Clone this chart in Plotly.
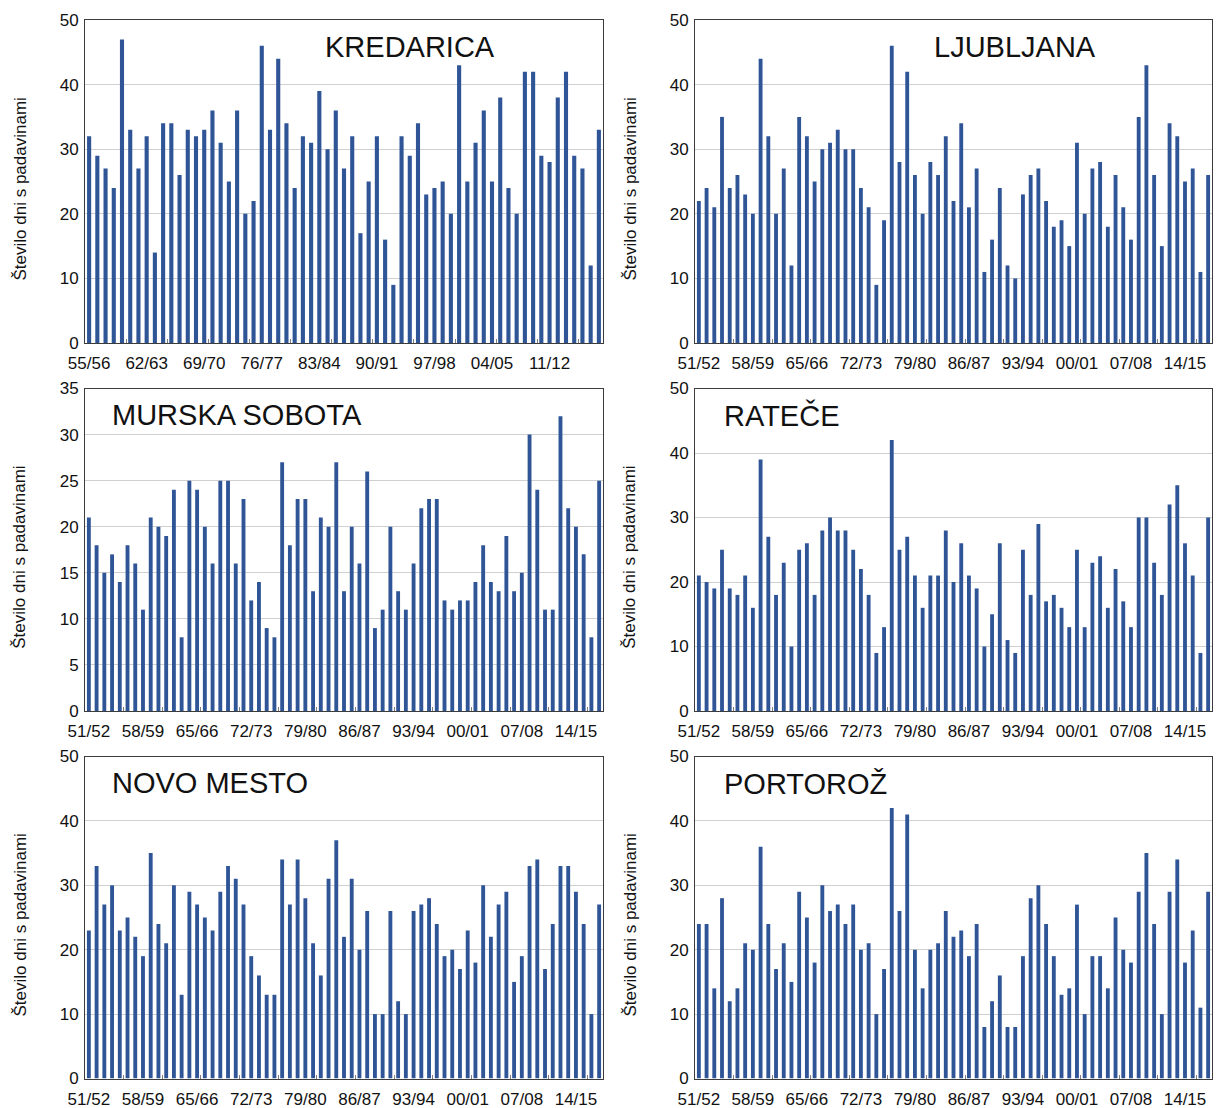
import plotly.graph_objects as go
from plotly.subplots import make_subplots

# Winter seasons (e.g. 1951/52 -> "51/52")
seasons_51 = [f"{y % 100:02d}/{(y + 1) % 100:02d}" for y in range(1951, 2018)]
seasons_55 = [f"{y % 100:02d}/{(y + 1) % 100:02d}" for y in range(1955, 2018)]

# Number of days with precipitation per winter season
kredarica = [32, 29, 27, 24, 47, 33, 27, 32, 14, 34, 34, 26, 33, 32, 33, 36, 31, 25, 36, 20,
             22, 46, 33, 44, 34, 24, 32, 31, 39, 30, 36, 27, 32, 17, 25, 32, 16, 9, 32, 29,
             34, 23, 24, 25, 20, 43, 25, 31, 36, 25, 38, 24, 20, 42, 42, 29, 28, 38, 42, 29,
             27, 12, 33]
ljubljana = [22, 24, 21, 35, 24, 26, 23, 20, 44, 32, 20, 27, 12, 35, 32, 25, 30, 31, 33, 30,
             30, 24, 21, 9, 19, 46, 28, 42, 26, 20, 28, 26, 32, 22, 34, 21, 27, 11, 16, 24,
             12, 10, 23, 26, 27, 22, 18, 19, 15, 31, 20, 27, 28, 18, 26, 21, 16, 35, 43, 26,
             15, 34, 32, 25, 27, 11, 26]
murska_sobota = [21, 18, 15, 17, 14, 18, 16, 11, 21, 20, 19, 24, 8, 25, 24, 20, 16, 25, 25, 16,
                 23, 12, 14, 9, 8, 27, 18, 23, 23, 13, 21, 20, 27, 13, 20, 16, 26, 9, 11, 20,
                 13, 11, 16, 22, 23, 23, 12, 11, 12, 12, 14, 18, 14, 13, 19, 13, 15, 30, 24, 11,
                 11, 32, 22, 20, 17, 8, 25]
ratece = [21, 20, 19, 25, 19, 18, 21, 16, 39, 27, 18, 23, 10, 25, 26, 18, 28, 30, 28, 28,
          25, 22, 18, 9, 13, 42, 25, 27, 21, 16, 21, 21, 28, 20, 26, 21, 19, 10, 15, 26,
          11, 9, 25, 18, 29, 17, 18, 16, 13, 25, 13, 23, 24, 16, 22, 17, 13, 30, 30, 23,
          18, 32, 35, 26, 21, 9, 30]
novo_mesto = [23, 33, 27, 30, 23, 25, 22, 19, 35, 24, 21, 30, 13, 29, 27, 25, 23, 29, 33, 31,
              27, 19, 16, 13, 13, 34, 27, 34, 28, 21, 16, 31, 37, 22, 31, 20, 26, 10, 10, 26,
              12, 10, 26, 27, 28, 24, 19, 20, 17, 23, 18, 30, 22, 27, 29, 15, 19, 33, 34, 17,
              24, 33, 33, 29, 24, 10, 27]
portoroz = [24, 24, 14, 28, 12, 14, 21, 20, 36, 24, 17, 21, 15, 29, 25, 18, 30, 26, 27, 24,
            27, 20, 21, 10, 17, 42, 26, 41, 20, 14, 20, 21, 26, 22, 23, 19, 24, 8, 12, 16,
            8, 8, 19, 28, 30, 24, 19, 13, 14, 27, 10, 19, 19, 14, 25, 20, 18, 29, 35, 24,
            10, 29, 34, 18, 23, 11, 29]

stations = [
    ("KREDARICA", seasons_55, kredarica, 50, 10),
    ("LJUBLJANA", seasons_51, ljubljana, 50, 10),
    ("MURSKA SOBOTA", seasons_51, murska_sobota, 35, 5),
    ("RATEČE", seasons_51, ratece, 50, 10),
    ("NOVO MESTO", seasons_51, novo_mesto, 50, 10),
    ("PORTOROŽ", seasons_51, portoroz, 50, 10),
]

W, H = 1216, 1108
FONT = "Liberation Sans, Arial, Helvetica, sans-serif"
BAR = "#2f5597"

# Plot-area pixel boxes (left, right, top, bottom)
col_x = [(85, 603), (695, 1212)]
row_y = [(20, 343), (388.5, 711), (756.5, 1078.5)]

fig = make_subplots(rows=3, cols=2)

# Station title placement in pixels: (x, y, anchor)
title_pos = [
    (410, 47, "center"), (1015, 47, "center"),
    (110, 415, "left"), (722, 415, "left"),
    (110, 783, "left"), (722, 784, "left"),
]

annotations = []
for i, (name, labels, vals, ymax, ystep) in enumerate(stations):
    r, c = divmod(i, 2)
    n = len(vals)
    xs = list(range(n))
    fig.add_trace(
        go.Bar(x=xs, y=vals, marker=dict(color=BAR, line=dict(width=0)),
               width=0.5, hoverinfo="y", showlegend=False),
        row=r + 1, col=c + 1,
    )
    x0, x1 = col_x[c]
    y0, y1 = row_y[r]
    ax = "" if i == 0 else str(i + 1)
    fig.layout["xaxis" + ax].update(
        domain=[x0 / W, x1 / W],
        range=[-0.5, n - 0.5],
        automargin=False,
        tickmode="array",
        tickvals=xs[::7],
        ticktext=labels[::7],
        ticks="",
        ticklabelstandoff=5,
        showgrid=False,
        showline=True, mirror=True, linecolor="#3c3c3c", linewidth=1,
        tickfont=dict(family=FONT, size=17, color="#111111"),
        minor=dict(tickmode="array", tickvals=[k + 4.5 for k in range(0, n - 5, 5)],
                   ticks="inside", ticklen=4, tickcolor="#7f7f7f", tickwidth=1,
                   showgrid=False),
        zeroline=False, fixedrange=True,
    )
    fig.layout["yaxis" + ax].update(
        domain=[1 - y1 / H, 1 - y0 / H],
        range=[0, ymax],
        automargin=False,
        tickmode="linear", tick0=0, dtick=ystep,
        ticks="",
        ticklabelstandoff=2,
        showgrid=True, gridcolor="#d0d0d0", gridwidth=1,
        showline=True, mirror=True, linecolor="#3c3c3c", linewidth=1,
        tickfont=dict(family=FONT, size=17, color="#111111"),
        zeroline=False, fixedrange=True,
    )
    tx, ty, anc = title_pos[i]
    annotations.append(dict(
        text=name, x=tx / W, y=1 - ty / H, xref="paper", yref="paper",
        xanchor=anc, yanchor="middle", showarrow=False,
        font=dict(family=FONT, size=29, color="#111111"),
    ))
    annotations.append(dict(
        text="Število dni s padavinami", x=(x0 - 65) / W, y=1 - ((y0 + y1) / 2 + 8) / H,
        xref="paper", yref="paper", xanchor="center", yanchor="middle",
        textangle=-90, showarrow=False,
        font=dict(family=FONT, size=17, color="#111111"),
    ))

fig.update_layout(
    width=W, height=H,
    margin=dict(l=0, r=0, t=0, b=0, autoexpand=False),
    paper_bgcolor="white", plot_bgcolor="white",
    bargap=0.5,
    annotations=annotations,
    font=dict(family=FONT),
)

fig.write_html("out.html")
